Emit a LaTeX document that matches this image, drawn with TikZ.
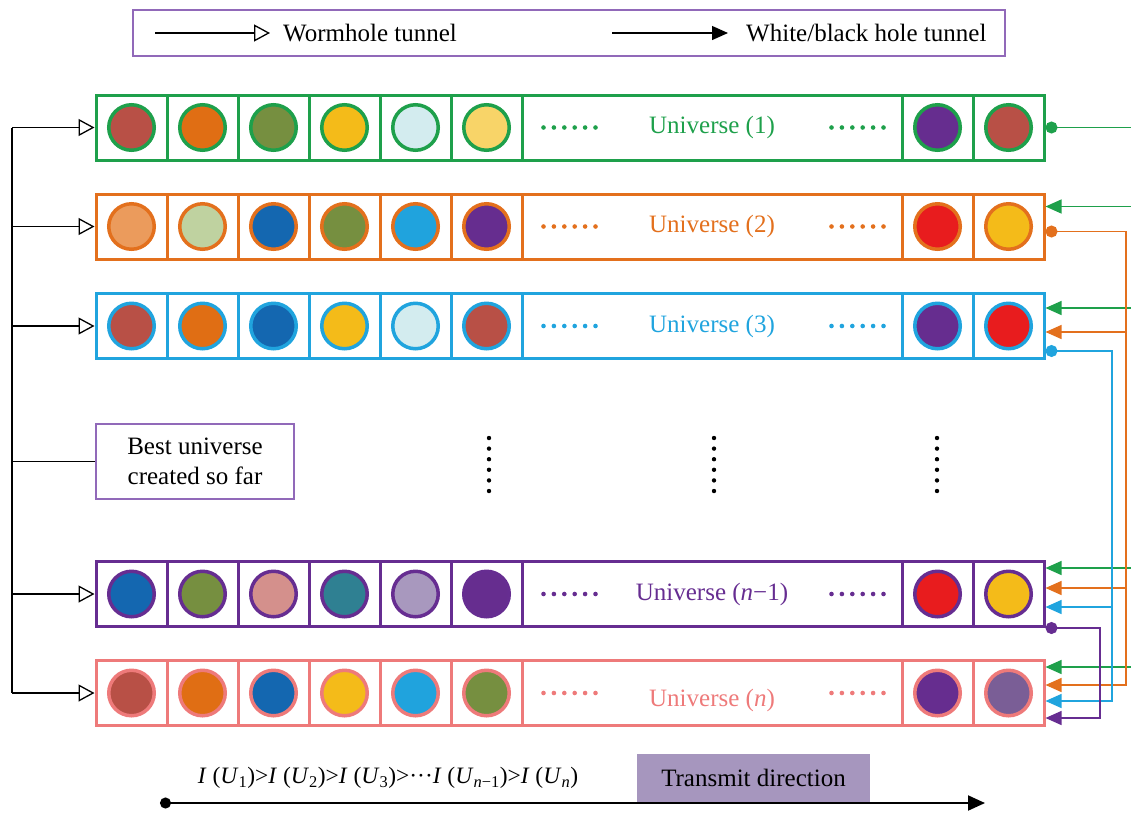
\documentclass[tikz,border=0pt]{standalone}
\usepackage{fontspec}
\setmainfont{Liberation Serif}
\usetikzlibrary{arrows.meta,calc,positioning}
% row colours
\definecolor{ugreen}{RGB}{30,160,75}
\definecolor{uorange}{RGB}{227,112,29}
\definecolor{ublue}{RGB}{32,164,222}
\definecolor{upurple}{RGB}{102,45,145}
\definecolor{upink}{RGB}{238,122,122}
\definecolor{framepurple}{RGB}{145,105,185}
\definecolor{transmit}{RGB}{166,150,190}
% planet colours
\definecolor{brick}{RGB}{184,80,70}
\definecolor{orangef}{RGB}{224,110,20}
\definecolor{olive}{RGB}{118,143,64}
\definecolor{yellowf}{RGB}{244,187,25}
\definecolor{lightcyan}{RGB}{211,236,239}
\definecolor{lightyellow}{RGB}{248,212,104}
\definecolor{purplef}{RGB}{102,45,143}
\definecolor{lightorange}{RGB}{235,155,92}
\definecolor{lightgreen}{RGB}{191,210,160}
\definecolor{darkblue}{RGB}{20,103,176}
\definecolor{brightblue}{RGB}{32,163,221}
\definecolor{redf}{RGB}{232,28,30}
\definecolor{dustypink}{RGB}{212,144,140}
\definecolor{tealf}{RGB}{47,128,146}
\definecolor{lavender}{RGB}{168,152,190}
\definecolor{mauve}{RGB}{122,94,150}

\begin{document}
\begin{tikzpicture}[x=1pt, y=-1pt,
    font=\fontsize{25}{30}\selectfont,
    cell/.style={draw, line width=3pt, minimum width=71pt, minimum height=65pt, inner sep=0pt},
    legendbox/.style={draw=framepurple, line width=1.5pt, inner sep=0pt},
    worm/.style={draw=black, line width=1.3pt, -{Triangle[open, length=16pt, width=17pt]}},
    tunnel/.style={line width=1.3pt, -{Triangle[length=16pt, width=14pt]}},
    source/.style={line width=1.3pt, {Circle[length=12pt]}-},
    chain/.style={line width=1.3pt, {Circle[length=12pt]}-{Triangle[length=16pt, width=14pt]}}]
  \useasboundingbox (0,0) rectangle (1131,812);
  % one universe row: [label shift] name, y, colour, label, planets
  \newcommand{\universe}[6][0]{%
    \foreach \f [count=\i] in {#6} {
      \pgfmathsetmacro\cx{\i<7 ? 131.5+71*(\i-1) : 937.5+71*(\i-7)}
      \node[cell, draw=#4] (#2-c\i) at (\cx,#3) {};
      \fill[fill=\f] (#2-c\i) circle (23.5);
      \draw[#4, line width=3.5pt] (#2-c\i) circle (22.75);
    }
    \node[cell, draw=#4, minimum width=380pt] (#2-mid) at (712,#3) {};
    \node[text=#4, yshift=-#1pt] (#2-label) at (#2-mid) {#5};
    \foreach \k in {0,...,5} {
      \fill[#4] ($(#2-mid.west)+(23+10.4*\k,0)$) circle (2.3);
      \fill[#4] ($(#2-mid.east)+(-72+10.4*\k,0)$) circle (2.3);
    }}
  % legend
  \node[legendbox, minimum width=872pt, minimum height=46pt] (legend) at (569,33) {};
  \coordinate (worm-a) at (155,33);
  \coordinate (worm-b) at (270,33);
  \draw[worm] (worm-a) -- (worm-b);
  \node[right=13pt of worm-b, inner sep=0pt] (worm-label) {Wormhole tunnel};
  \coordinate (hole-a) at (612,33);
  \coordinate (hole-b) at (728,33);
  \draw[tunnel] (hole-a) -- (hole-b);
  \node[right=18pt of hole-b, inner sep=0pt] (hole-label) {White/black hole tunnel};
  % universes
  \universe{u1}{127.5}{ugreen}{Universe (1)}{brick,orangef,olive,yellowf,lightcyan,lightyellow,purplef,brick}
  \universe{u2}{226.5}{uorange}{Universe (2)}{lightorange,lightgreen,darkblue,olive,brightblue,purplef,redf,yellowf}
  \universe{u3}{326}{ublue}{Universe (3)}{brick,orangef,darkblue,yellowf,lightcyan,brick,purplef,redf}
  \universe{um}{594}{upurple}{Universe (\textit{n}−1)}{darkblue,olive,dustypink,tealf,lavender,purplef,redf,yellowf}
  \universe[7]{un}{693}{upink}{Universe (\textit{n})}{brick,orangef,darkblue,yellowf,brightblue,olive,purplef,mauve}
  % vertical dots
  \foreach \x in {489,714,937}
    \foreach \k in {0,...,5} \fill (\x,{438+10.6*\k}) circle (2.2);
  % best universe and wormholes
  \node[legendbox, minimum width=198pt, minimum height=75pt, align=center] (best) at (195,461.5) {Best universe\\created so far};
  \coordinate (bus) at (12,0);
  \draw[line width=1.3pt] (bus |- u1-c1.west) -- (bus |- un-c1.west);
  \draw[line width=1.3pt] (bus |- best.west) -- (best.west);
  \foreach \r in {u1,u2,u3,um,un} \draw[worm] (bus |- \r-c1.west) -- (\r-c1.west);
  % white/black hole tunnels
  \coordinate (gbus) at (1131,0);
  \coordinate (obus) at (1126,0);
  \coordinate (bbus) at (1112,0);
  \coordinate (pbus) at (1100,0);
  \coordinate (u1-out) at (u1-c8.east);
  \coordinate (u2-out) at ($(u2-c8.east)+(0,5)$);
  \coordinate (u3-out) at ($(u3-c8.east)+(0,25)$);
  \coordinate (um-out) at (um-c8.south east);
  \coordinate (u2-g) at ($(u2-c8.east)+(0,-20)$);
  \coordinate (u3-g) at ($(u3-c8.east)+(0,-18)$);
  \coordinate (u3-o) at ($(u3-c8.east)+(0,6)$);
  \coordinate (um-g) at ($(um-c8.east)+(0,-26)$);
  \coordinate (um-o) at ($(um-c8.east)+(0,-6)$);
  \coordinate (um-b) at ($(um-c8.east)+(0,13)$);
  \coordinate (un-g) at ($(un-c8.east)+(0,-26)$);
  \coordinate (un-o) at ($(un-c8.east)+(0,-8)$);
  \coordinate (un-b) at ($(un-c8.east)+(0,8)$);
  \coordinate (un-p) at ($(un-c8.east)+(0,25)$);
  \draw[ugreen, source] (u1-out) -- (gbus |- u1-out);
  \foreach \r in {u2,u3,um,un} \draw[ugreen, tunnel] (gbus |- \r-g) -- (\r-g);
  \draw[uorange, chain] (u2-out) -| (obus |- un-o) -- (un-o);
  \foreach \r in {u3,um} \draw[uorange, tunnel] (obus |- \r-o) -- (\r-o);
  \draw[ublue, chain] (u3-out) -| (bbus |- un-b) -- (un-b);
  \draw[ublue, tunnel] (bbus |- um-b) -- (um-b);
  \draw[upurple, chain] (um-out) -| (pbus |- un-p) -- (un-p);
  % transmit direction
  \node[fill=transmit, minimum width=233pt, minimum height=49pt, anchor=south] (transmit) at (753.5,803) {Transmit direction};
  \coordinate (axis-a) at (160,803);
  \coordinate (axis-b) at (985,803);
  \draw[line width=2pt, {Circle[length=11pt]}-{Triangle[length=17pt, width=15pt]}] (axis-a) -- (axis-b);
  \node[font=\fontsize{23.5}{28}\selectfont] (order) at (388,778) {\textit{I} (\textit{U}\textsubscript{1})>\textit{I} (\textit{U}\textsubscript{2})>\textit{I} (\textit{U}\textsubscript{3})>···\textit{I} (\textit{U}\textsubscript{\textit{n}−1})>\textit{I} (\textit{U}\textsubscript{\textit{n}})};
\end{tikzpicture}
\end{document}
